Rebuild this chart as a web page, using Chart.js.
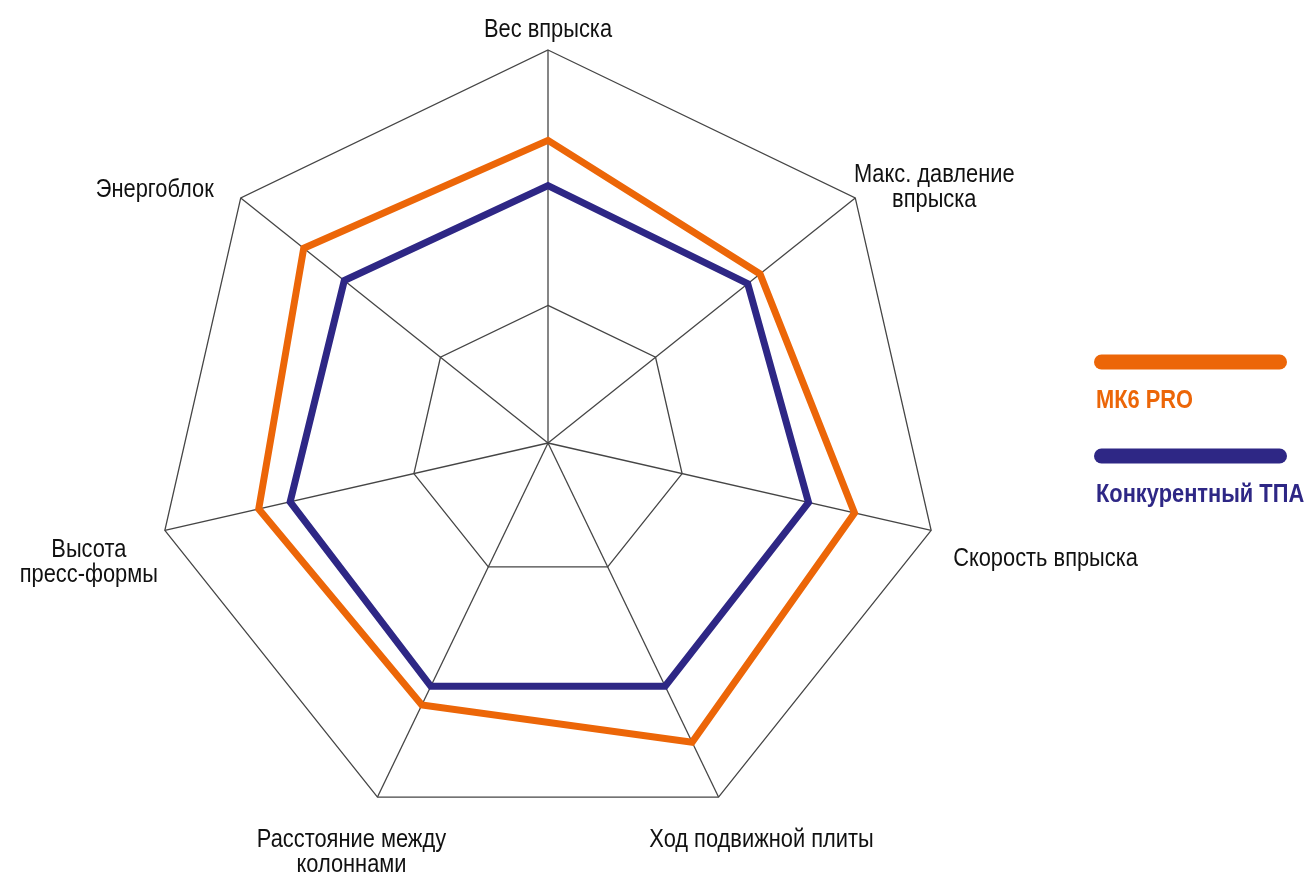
<!DOCTYPE html>
<html lang="ru">
<head>
<meta charset="utf-8">
<script src="https://cdn.jsdelivr.net/npm/chart.js@4.4.1/dist/chart.umd.min.js"></script>
<style>
	html, body { margin: 0; padding: 0; background: #fff; }
	#wrap { position: relative; width: 1314px; height: 877px; }
</style>
</head>
<body>
<div id="wrap"><canvas id="radar" width="1314" height="877"></canvas></div>
<script>
const axisLabels = [
	["Вес впрыска"],
	["Макс. давление", "впрыска"],
	["Скорость впрыска"],
	["Ход подвижной плиты"],
	["Расстояние между", "колоннами"],
	["Высота", "пресс-формы"],
	["Энергоблок"],
];
const seriesNames = ["МК6 PRO", "Конкурентный ТПА"];
const mk6Values = [77, 69, 80, 84.5, 74, 75.5, 79.5];
const rivalValues = [65.5, 65, 68, 68.7, 68.7, 67.3, 66.3];
const gridTicks = [0, 35, 100];

const orange = "#EC6608";
const indigo = "#2E2785";

// where each axis label sits relative to the outer vertex
const labelPlace = [
	{ align: "center", dx: 0, dy: -13 },
	{ align: "center", dx: 79, dy: -16 },
	{ align: "left", dx: 22, dy: 36 },
	{ align: "center", dx: 43, dy: 50 },
	{ align: "center", dx: -26, dy: 50 },
	{ align: "center", dx: -76, dy: 27 },
	{ align: "center", dx: -86, dy: -1 },
];

function hasFont(name) {
	const c = document.createElement("canvas").getContext("2d");
	const probe = "Вес впрыска Ход подвижной";
	c.font = "30px monospace";
	const base = c.measureText(probe).width;
	c.font = `30px "${name}", monospace`;
	return Math.abs(c.measureText(probe).width - base) > 0.5;
}
// narrow face if present, otherwise squeeze the regular one
let family = '"Liberation Sans", Arial, sans-serif';
let squeeze = 0.84;
if (hasFont("Liberation Sans Narrow")) {
	family = '"Liberation Sans Narrow"';
	squeeze = 1;
}

function drawText(ctx, text, x, y, align) {
	ctx.save();
	ctx.translate(x, y);
	ctx.scale(squeeze, 1);
	ctx.textAlign = align;
	ctx.fillText(text, 0, 0);
	ctx.restore();
}

const labelPlugin = {
	id: "axisLabels",
	afterDraw(chart) {
		const scale = chart.scales.r;
		const ctx = chart.ctx;
		ctx.save();
		ctx.fillStyle = "#111";
		ctx.font = `26px ${family}`;
		ctx.textBaseline = "alphabetic";
		axisLabels.forEach((lines, i) => {
			const p = scale.getPointPosition(i, scale.drawingArea);
			const o = labelPlace[i];
			lines.forEach((line, k) => drawText(ctx, line, p.x + o.dx, p.y + o.dy + k * 25, o.align));
		});

		// legend on the right
		ctx.font = `bold 26px ${family}`;
		chart.data.datasets.forEach((ds, i) => {
			const y = 362 + i * 94;
			ctx.strokeStyle = ds.borderColor;
			ctx.lineWidth = 15;
			ctx.lineCap = "round";
			ctx.beginPath();
			ctx.moveTo(1101.5, y);
			ctx.lineTo(1279.5, y);
			ctx.stroke();
			ctx.fillStyle = ds.borderColor;
			drawText(ctx, ds.label, 1096, y + 46, "left");
		});
		ctx.restore();
	},
};

const lineColor = "#454545";
new Chart(document.getElementById("radar").getContext("2d"), {
	type: "radar",
	data: {
		labels: axisLabels,
		datasets: [
			{
				label: seriesNames[0],
				data: mk6Values,
				borderColor: orange,
				backgroundColor: "transparent",
				borderWidth: 7,
				borderJoinStyle: "miter",
				pointRadius: 0,
				fill: false,
			},
			{
				label: seriesNames[1],
				data: rivalValues,
				borderColor: indigo,
				backgroundColor: "transparent",
				borderWidth: 7,
				borderJoinStyle: "miter",
				pointRadius: 0,
				fill: false,
			},
		],
	},
	options: {
		responsive: false,
		animation: false,
		layout: { padding: { left: 155, right: 373, top: 50, bottom: 41 } },
		plugins: {
			legend: { display: false },
			tooltip: { enabled: false },
		},
		scales: {
			r: {
				min: 0,
				max: 100,
				afterBuildTicks: s => {
					s.ticks = gridTicks.map(v => ({ value: v }));
				},
				ticks: { display: false },
				grid: { color: lineColor, lineWidth: 1.3 },
				angleLines: { color: lineColor, lineWidth: 1.3 },
				pointLabels: { display: false },
			},
		},
	},
	plugins: [labelPlugin],
});
</script>
</body>
</html>
